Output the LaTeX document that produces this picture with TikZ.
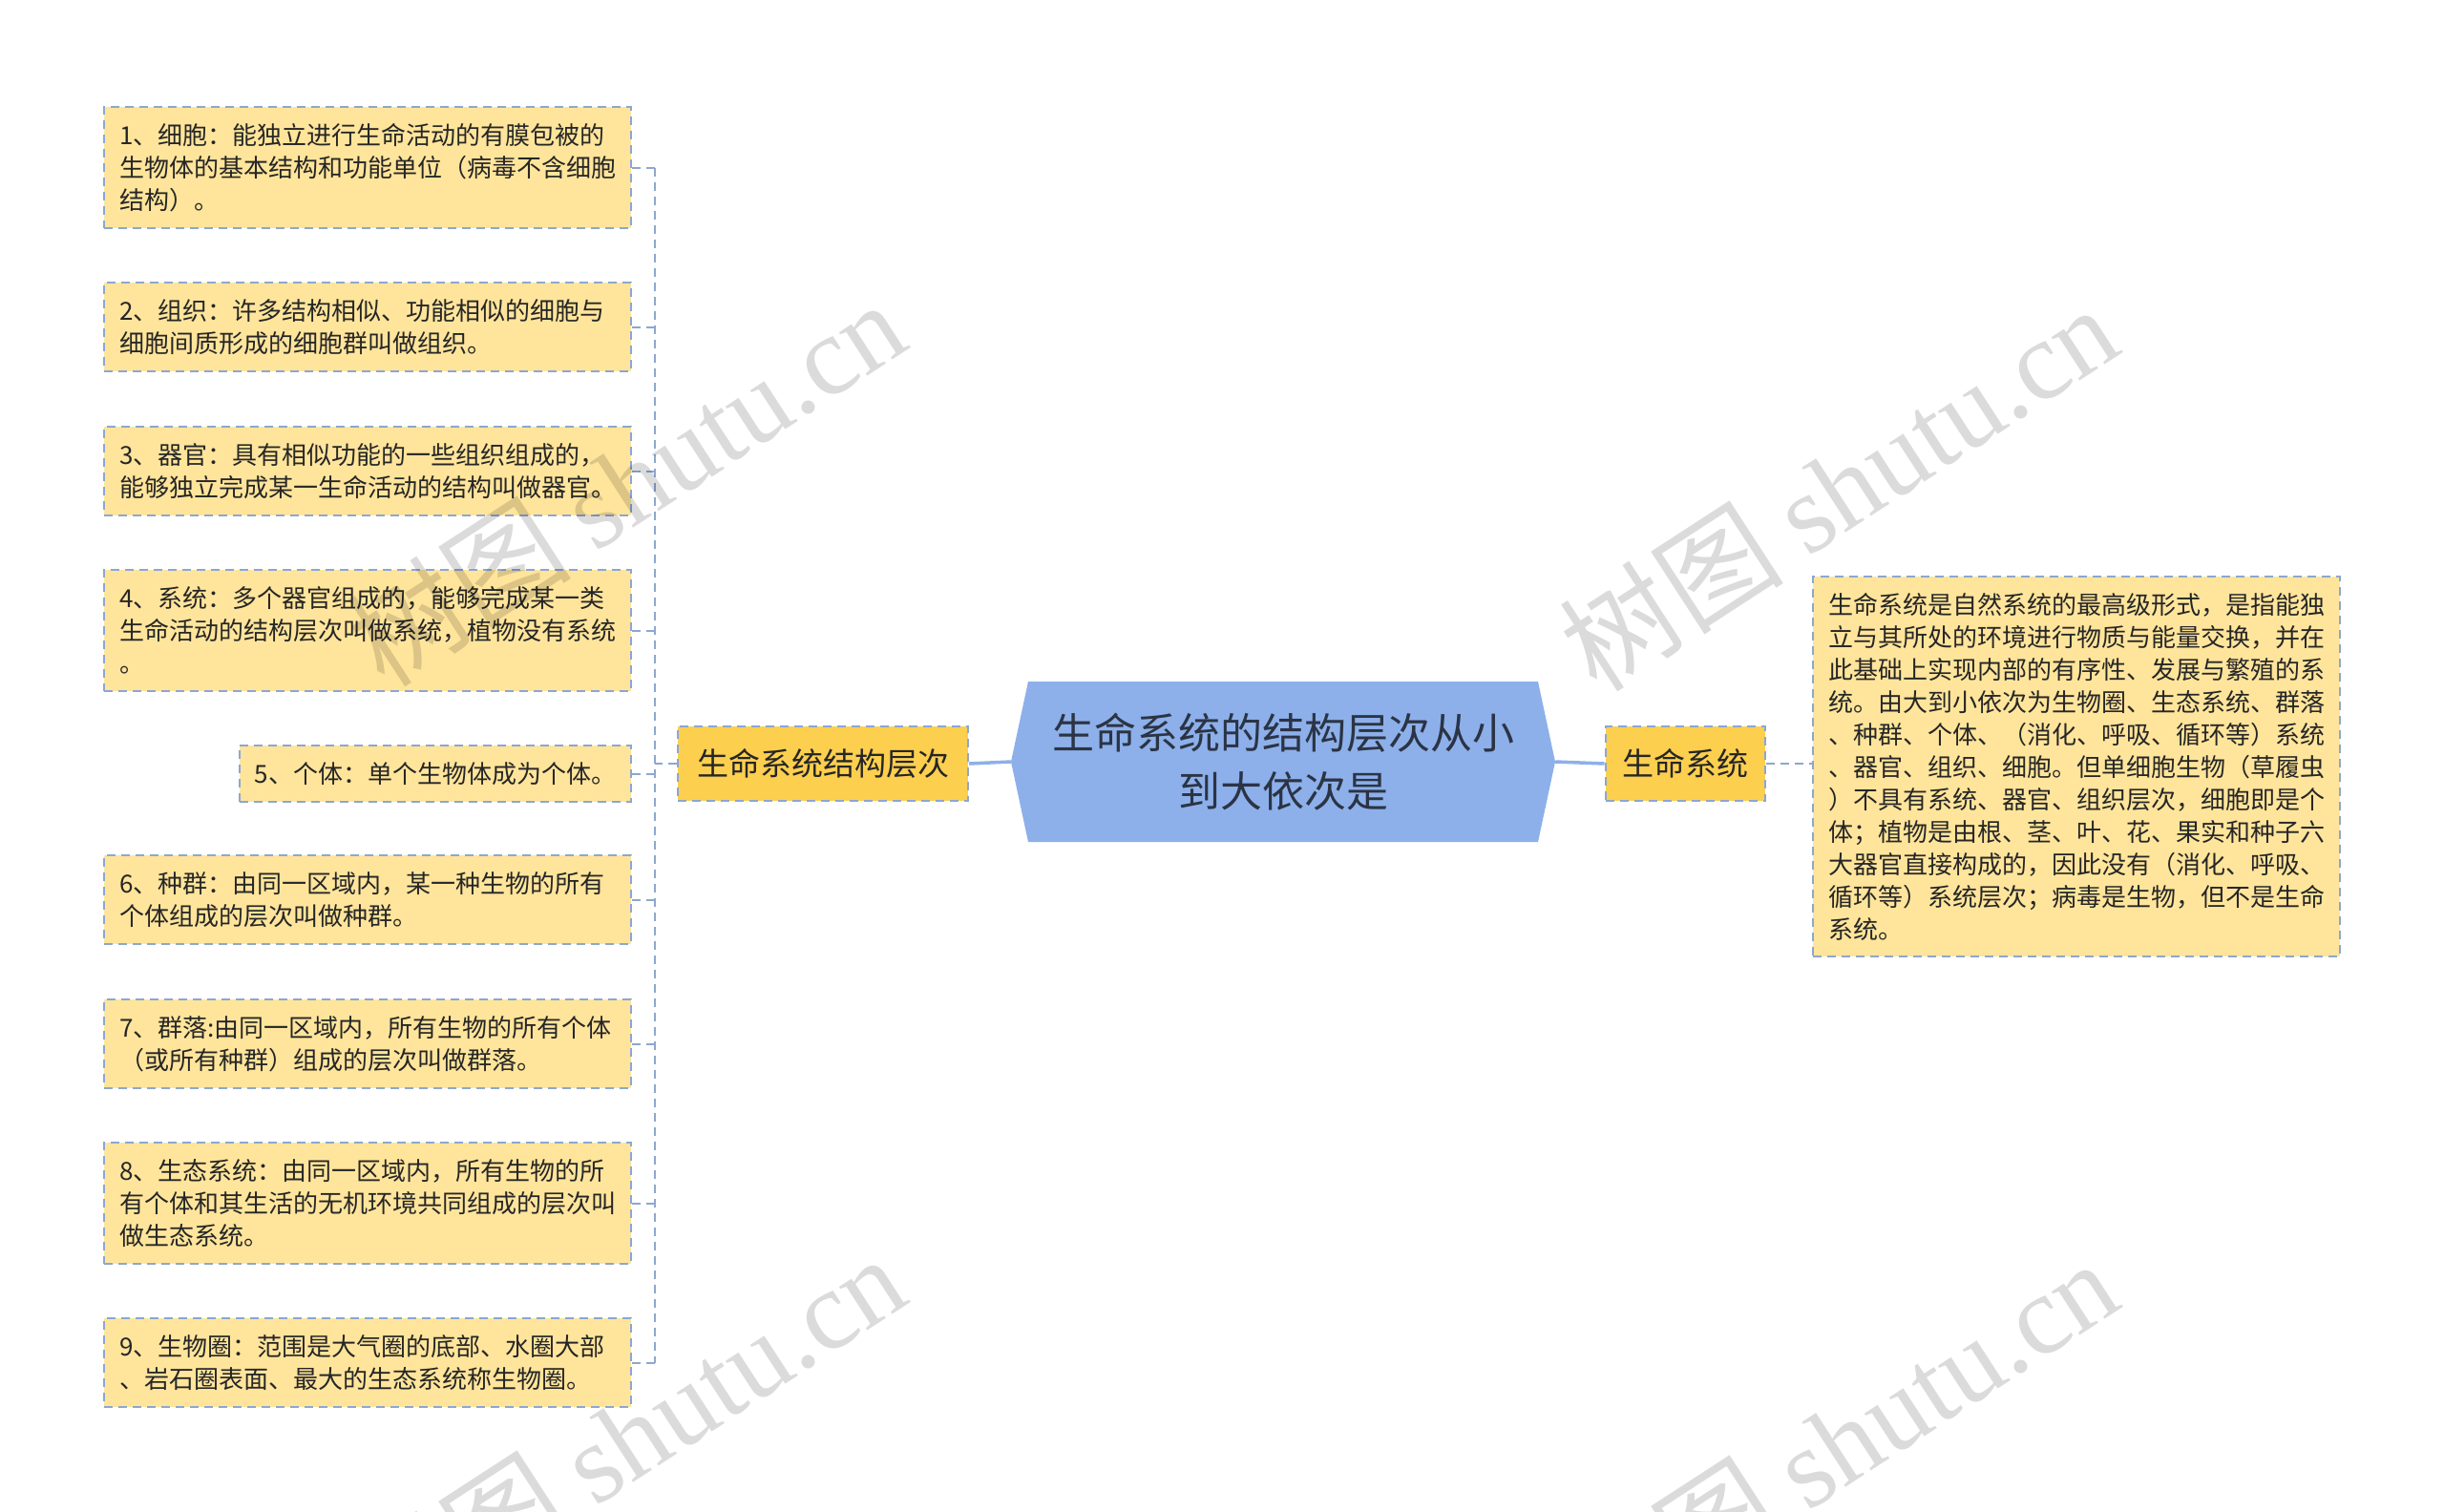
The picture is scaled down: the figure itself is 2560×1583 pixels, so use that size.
\documentclass[tikz,border=0pt]{standalone}
\usepackage{fontspec}
\setmainfont{Noto Sans CJK SC}
\newfontfamily\wmserif{Liberation Serif}
\usetikzlibrary{calc}
\definecolor{leafc}{HTML}{FFE59B}
\definecolor{goldc}{HTML}{FDCF4E}
\definecolor{hexc}{HTML}{8DB0EA}
\definecolor{bordc}{HTML}{8CA7D1}
\definecolor{txtc}{HTML}{262626}
\definecolor{ctxt}{HTML}{2B3445}
\begin{document}
\begin{tikzpicture}[x=1pt,y=-1pt,
  leaf/.style={draw=bordc, fill=leafc, line width=2pt, dash pattern=on 9pt off 6pt,
    font=\fontsize{26}{34}\selectfont, text=txtc, align=left,
    inner xsep=16pt, inner ysep=0pt, anchor=north east},
  wideleaf/.style={leaf, text width=520pt},
  gold/.style={draw=bordc, fill=goldc, line width=2pt, dash pattern=on 9pt off 6pt,
    font=\fontsize{33}{40}\selectfont, text=txtc, inner sep=0pt, minimum height=78pt},
  tree/.style={draw=bordc, line width=2pt, dash pattern=on 9pt off 6pt},
  solidc/.style={draw=hexc, line width=3.5pt},
  wmark/.style={text=black, text opacity=0.14, font=\fontsize{118}{124}\selectfont, rotate=33}
]
\useasboundingbox (0,0) rectangle (2560,1583);
\fill[white] (0,0) rectangle (2560,1583);

% left leaves
\node[wideleaf, minimum height=127pt] (b1) at (662,111) {1、细胞：能独立进行生命活动的有膜包被的\\生物体的基本结构和功能单位（病毒不含细胞\\结构）。};
\node[wideleaf, minimum height=93pt] (b2) at (662,295) {2、组织：许多结构相似、功能相似的细胞与\\细胞间质形成的细胞群叫做组织。};
\node[wideleaf, minimum height=93pt] (b3) at (662,446) {3、器官：具有相似功能的一些组织组成的，\\能够独立完成某一生命活动的结构叫做器官。};
\node[wideleaf, minimum height=127pt] (b4) at (662,596) {4、系统：多个器官组成的，能够完成某一类\\生命活动的结构层次叫做系统，植物没有系统\\。};
\node[leaf, minimum height=59pt] (b5) at (662,780) {5、个体：单个生物体成为个体。};
\node[wideleaf, minimum height=93pt] (b6) at (662,895) {6、种群：由同一区域内，某一种生物的所有\\个体组成的层次叫做种群。};
\node[wideleaf, minimum height=93pt] (b7) at (662,1046) {7、群落:由同一区域内，所有生物的所有个体\\（或所有种群）组成的层次叫做群落。};
\node[wideleaf, minimum height=127pt] (b8) at (662,1196) {8、生态系统：由同一区域内，所有生物的所\\有个体和其生活的无机环境共同组成的层次叫\\做生态系统。};
\node[wideleaf, minimum height=93pt] (b9) at (662,1380) {9、生物圈：范围是大气圈的底部、水圈大部\\、岩石圈表面、最大的生态系统称生物圈。};

% center hexagon
\fill[hexc] (1059,798) -- (1077,714) -- (1611,714) -- (1629,798) -- (1611,882) -- (1077,882) -- cycle;
\node[font=\fontsize{44}{61}\selectfont, text=ctxt, align=center, minimum width=570pt, minimum height=168pt, inner sep=0pt] (c) at (1344,798) {生命系统的结构层次从小\\到大依次是};

% branch nodes
\node[gold, minimum width=304pt] (L) at (862,800) {生命系统结构层次};
\node[gold, minimum width=167pt] (R) at (1765,800) {生命系统};

% right leaf
\node[wideleaf, anchor=north west, minimum height=398pt] (rb) at (1898,603) {生命系统是自然系统的最高级形式，是指能独\\立与其所处的环境进行物质与能量交换，并在\\此基础上实现内部的有序性、发展与繁殖的系\\统。由大到小依次为生物圈、生态系统、群落\\、种群、个体、（消化、呼吸、循环等）系统\\、器官、组织、细胞。但单细胞生物（草履虫\\）不具有系统、器官、组织层次，细胞即是个\\体；植物是由根、茎、叶、花、果实和种子六\\大器官直接构成的，因此没有（消化、呼吸、\\循环等）系统层次；病毒是生物，但不是生命\\系统。};

% connectors
\coordinate (hub) at (686,800);
\draw[solidc] (L.east) -- (c.west);
\draw[solidc] (c.east) -- (R.west);
\draw[tree] (R.east) -- (rb.west |- R.east);
\draw[tree] (L.west) -- (hub);
\draw[tree] (b1.east -| hub) -- (b9.east -| hub);
\foreach \b in {b1,b2,b3,b4,b5,b6,b7,b8,b9} {
  \draw[tree] (\b.east) -- (\b.east -| hub);
}

% watermarks
\node[wmark] (wm1) at (655,505) {树图 {\wmserif shutu.cn}};
\node[wmark] (wm2) at (1925,510) {树图 {\wmserif shutu.cn}};
\node[wmark] (wm3) at (655,1505) {树图 {\wmserif shutu.cn}};
\node[wmark] (wm4) at (1925,1510) {树图 {\wmserif shutu.cn}};
\end{tikzpicture}
\end{document}
